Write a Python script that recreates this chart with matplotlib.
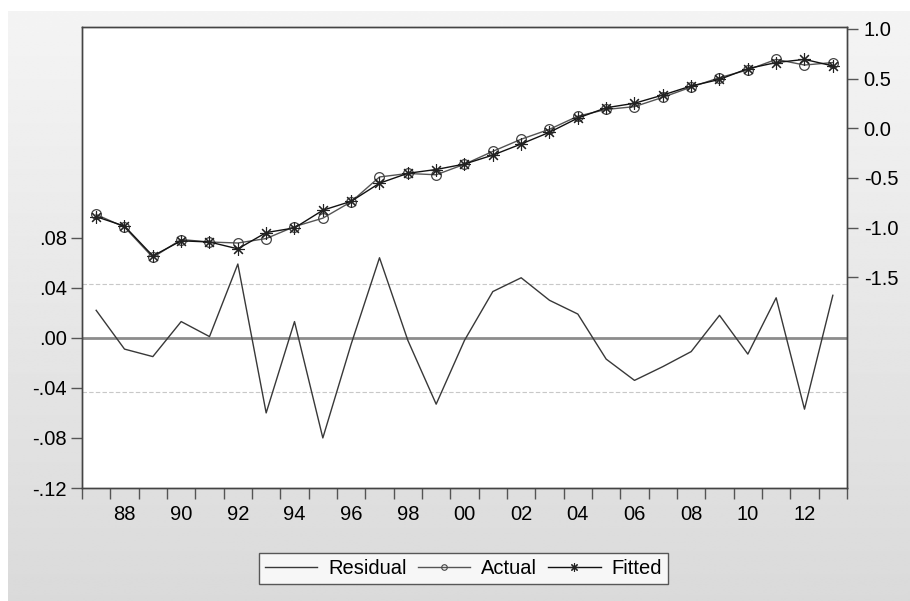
import numpy as np
import matplotlib
matplotlib.use("Agg")
import matplotlib.pyplot as plt
from matplotlib.lines import Line2D

plt.rcParams['font.family'] = ['Liberation Sans', 'DejaVu Sans']

years = list(range(1987, 2014))

residual = [0.022, -0.009, -0.015, 0.013, 0.001, 0.059, -0.060, 0.013, -0.080, -0.005,
            0.064, -0.002, -0.053, -0.002, 0.037, 0.048, 0.030, 0.019, -0.017, -0.034,
            -0.023, -0.011, 0.018, -0.013, 0.032, -0.057, 0.034]

actual = [-0.868, -0.995, -1.300, -1.120, -1.145, -1.155, -1.110, -0.990, -0.905, -0.740,
          -0.490, -0.455, -0.468, -0.362, -0.232, -0.110, -0.010, 0.122, 0.190, 0.218,
          0.312, 0.415, 0.510, 0.588, 0.694, 0.637, 0.662]

fitted = [-0.890, -0.985, -1.285, -1.133, -1.145, -1.214, -1.050, -1.003, -0.825, -0.735,
          -0.553, -0.453, -0.415, -0.360, -0.270, -0.158, -0.040, 0.103, 0.207, 0.252,
          0.335, 0.426, 0.492, 0.601, 0.662, 0.694, 0.628]

std_err = 0.043

left_ticks = [-0.12, -0.08, -0.04, 0.00, 0.04, 0.08]
left_labels = ['-.12', '-.08', '-.04', '.00', '.04', '.08']
right_ticks = [-1.5, -1.0, -0.5, 0.0, 0.5, 1.0]
right_labels = ['-1.5', '-1.0', '-0.5', '0.0', '0.5', '1.0']
year_labels = ['88', '90', '92', '94', '96', '98', '00', '02', '04', '06', '08', '10', '12']
label_years = list(range(1988, 2014, 2))

FS = 14.5
W, H = 910, 601
fig = plt.figure(figsize=(W / 100, H / 100), dpi=100)
fig.patch.set_facecolor('white')

# gray gradient panel behind the chart
bg = fig.add_axes([8 / W, 0, 1 - 8 / W, 1 - 11 / H], zorder=-10)
grad = np.linspace(0.957, 0.855, 256).reshape(-1, 1)
bg.imshow(np.repeat(grad, 2, axis=1), cmap='gray', vmin=0, vmax=1,
          aspect='auto', extent=[0, 1, 0, 1], origin='upper', interpolation='bilinear')
bg.set_axis_off()

left, right, top, bottom = 82, 847, 27, 488
ax = fig.add_axes([left / W, 1 - bottom / H, (right - left) / W, (bottom - top) / H])
ax.set_facecolor('white')
ax.set_zorder(2)

ax.set_xlim(1986.5, 2013.5)
ax.set_ylim(-0.12, 0.2484)

# residual band and zero line
ax.axhline(0, color='#8c8c8c', lw=2.0, zorder=1)
ax.axhline(std_err, color='#c8c8c8', lw=0.8, ls=(0, (4, 2)), zorder=1)
ax.axhline(-std_err, color='#c8c8c8', lw=0.8, ls=(0, (4, 2)), zorder=1)

ax.plot(years, residual, color='#383838', lw=1.0, zorder=3)

ax.set_yticks(left_ticks)
ax.set_yticklabels(left_labels)

ax.set_xticks(np.arange(1986.5, 2014.0, 1.0))
ax.set_xticklabels([])
ax.set_xticks(label_years, minor=True)
ax.set_xticklabels(year_labels, minor=True)
ax.tick_params(axis='x', which='major', direction='out', length=8, width=1, color='#555555')
ax.tick_params(axis='x', which='minor', length=0, pad=12, labelsize=FS)
ax.tick_params(axis='y', direction='out', length=8, width=1, color='#555555', labelsize=FS, pad=3)

for s in ax.spines.values():
    s.set_color('#444444')
    s.set_linewidth(1.0)

ax2 = ax.twinx()
ax2.set_ylim(-3.622, 1.020)
ax2.plot(years, actual, color='#555555', lw=1.0, marker='o', ms=7,
         mfc='none', mec='#444444', mew=0.9, zorder=4)
ax2.plot(years, fitted, color='#111111', lw=1.0, marker=(8, 2, 0), ms=9,
         mec='#222222', mew=0.8, zorder=5)
ax2.set_yticks(right_ticks)
ax2.set_yticklabels(right_labels)
ax2.tick_params(axis='y', direction='out', length=8, width=1, color='#555555', labelsize=FS, pad=4)
for s in ax2.spines.values():
    s.set_color('#444444')
    s.set_linewidth(1.0)

handles = [
    Line2D([], [], color='#383838', lw=1.0),
    Line2D([], [], color='#555555', lw=1.0, marker='o', ms=4, mfc='none', mec='#444444', mew=0.8),
    Line2D([], [], color='#111111', lw=1.0, marker=(8, 2, 0), ms=6, mec='#222222', mew=0.8),
]
leg = fig.legend(handles, ['Residual', 'Actual', 'Fitted'], ncol=3,
                 loc='center', bbox_to_anchor=((255 + 672) / 2 / W, 1 - 568.5 / H),
                 fontsize=FS, frameon=True, fancybox=False, edgecolor='#333333',
                 handlelength=2.6, handletextpad=0.55, columnspacing=0.55,
                 borderpad=0.3, borderaxespad=0)
leg.get_frame().set_linewidth(1.0)

fig.savefig('out.png', dpi=100)
